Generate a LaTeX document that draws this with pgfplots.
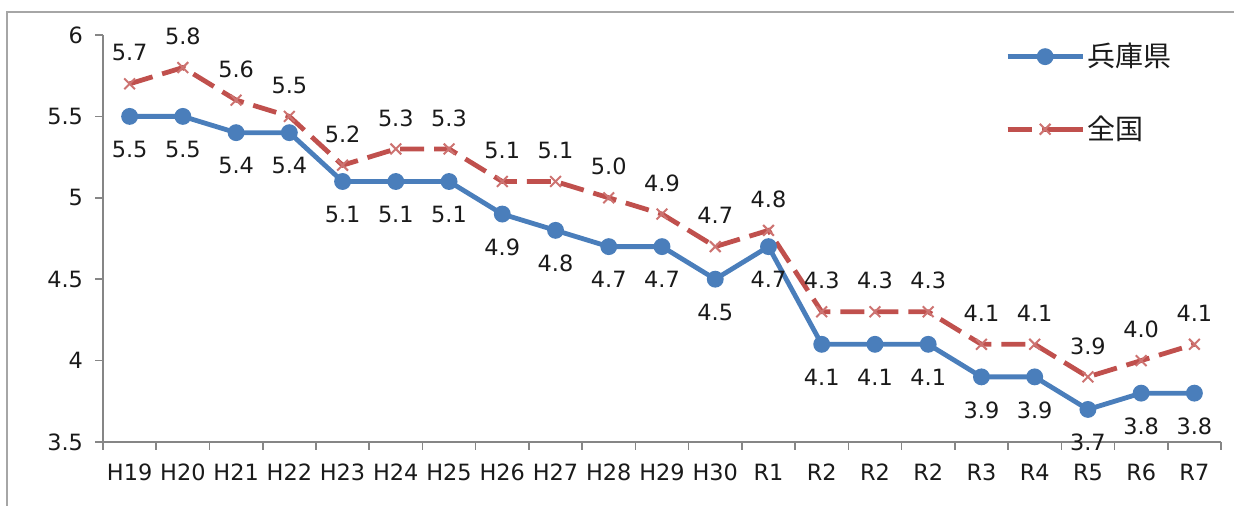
\documentclass[border=0pt]{standalone}
\usepackage{pgfplots}
\pgfplotsset{compat=1.18}
\usepackage{fontspec}
\setmainfont{DejaVu Sans}
\newfontfamily\cjk{Noto Sans CJK JP}
\definecolor{myblue}{HTML}{4A7EBB}
\definecolor{myred}{HTML}{C0504D}
\definecolor{axgray}{HTML}{868686}
\definecolor{framegray}{HTML}{A6A6A6}
\definecolor{txt}{HTML}{1A1A1A}
\pgfplotsset{
  blueleg/.style={legend image code/.code={\draw[mark repeat=2,mark phase=2,##1] plot coordinates {(0pt,0pt) (18.75pt,0pt) (37.5pt,0pt)};}},
  redleg/.style={legend image code/.code={\draw[##1, dash pattern=on 11pt off 15.5pt] (0pt,0pt) -- (37.5pt,0pt);
    \path[##1, mark repeat=2, mark phase=2] plot coordinates {(0pt,0pt) (18.75pt,0pt) (37.5pt,0pt)};}},
}
\begin{document}
\begin{tikzpicture}[x=1pt,y=1pt]
\useasboundingbox (0,0) rectangle (617,253);
\draw[framegray, line width=1pt] (3.5,-10) -- (3.5,247) -- (630,247);
\begin{axis}[
  at={(51.5pt,32pt)}, anchor=south west,
  scale only axis, width=559pt, height=203.5pt,
  xmin=-0.5, xmax=20.5, ymin=3.5, ymax=6,
  clip=false,
  axis x line*=bottom, axis y line*=left,
  axis line style={axgray, line width=0.8pt},
  tick align=outside, major tick length=4pt,
  tick style={axgray, line width=0.8pt},
  ytick={3.5,4,4.5,5,5.5,6},
  xtick={-0.5,0.5,1.5,2.5,3.5,4.5,5.5,6.5,7.5,8.5,9.5,10.5,11.5,12.5,13.5,14.5,15.5,16.5,17.5,18.5,19.5,20.5},
  xticklabels={},
  extra x ticks={0,1,2,3,4,5,6,7,8,9,10,11,12,13,14,15,16,17,18,19,20},
  extra x tick labels={H19,H20,H21,H22,H23,H24,H25,H26,H27,H28,H29,H30,R1,R2,R2,R2,R3,R4,R5,R6,R7},
  extra x tick style={major tick length=0pt, xticklabel style={yshift=-7.5pt}},
  /pgf/number format/assume math mode=true,
  ticklabel style={font=\fontsize{11.2}{13}\selectfont, text=txt},
  yticklabel style={xshift=-2.5pt},
  nodes near coords={\pgfmathprintnumber[fixed,fixed zerofill,precision=1]{\pgfplotspointmeta}},
  every node near coord/.append style={font=\fontsize{11.2}{13}\selectfont, text=txt, anchor=center},
  legend style={draw=none, fill=none, at={(axis cs:16.44,5.644)}, anchor=west,
    row sep=21pt, font=\cjk\fontsize{14}{16}\selectfont, inner sep=0pt,
    nodes={inner sep=1pt, text=txt}},
  legend cell align=left,
]
\addplot[myblue, line width=2.4pt, mark=*, mark size=3pt, blueleg,
  every node near coord/.append style={yshift=-16.5pt}]
coordinates {
(0,5.5) (1,5.5) (2,5.4) (3,5.4) (4,5.1) (5,5.1) (6,5.1) (7,4.9) (8,4.8) (9,4.7) (10,4.7)
(11,4.5) (12,4.7) (13,4.1) (14,4.1) (15,4.1) (16,3.9) (17,3.9) (18,3.7) (19,3.8) (20,3.8)};
\addlegendentry{兵庫県}
\addplot[myred, line width=2.4pt, dash pattern=on 12pt off 5pt, mark=x, mark size=3.8pt,
  mark options={solid, line width=1pt, myred!80}, redleg,
  every node near coord/.append style={yshift=15.5pt}]
coordinates {
(0,5.7) (1,5.8) (2,5.6) (3,5.5) (4,5.2) (5,5.3) (6,5.3) (7,5.1) (8,5.1) (9,5.0) (10,4.9)
(11,4.7) (12,4.8) (13,4.3) (14,4.3) (15,4.3) (16,4.1) (17,4.1) (18,3.9) (19,4.0) (20,4.1)};
\addlegendentry{全国}
\end{axis}
\end{tikzpicture}
\end{document}
